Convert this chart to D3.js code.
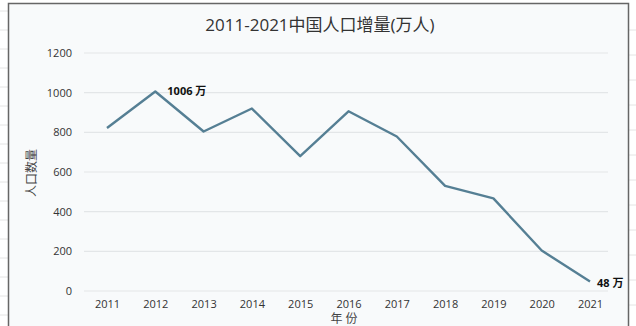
<!DOCTYPE html>
<html><head><meta charset="utf-8">
<script src="https://cdn.jsdelivr.net/npm/d3@7"></script>
<style>body{margin:0;background:#fff}svg{display:block}</style>
</head><body>
<svg id="c" width="636" height="326"></svg>
<script>
const years = ["2011","2012","2013","2014","2015","2016","2017","2018","2019","2020","2021"];
const increase = [822,1006,804,920,680,906,779,530,467,204,48];
const yTicks = [0,200,400,600,800,1000,1200];
const title = "2011-2021中国人口增量(万人)";
const yLabel = "人口数量";
const xLabel = "年 份";
const annotations = [{i:1, text:"1006 万"},{i:10, text:"48 万"}];

const svg = d3.select("#c");
const font = "'Open Sans','Noto Sans CJK SC',sans-serif";

// spreadsheet-like background lines outside the frame
svg.append("g").selectAll("line").data(d3.range(11, 326, 19)).join("line")
  .attr("x1",0).attr("x2",8).attr("y1",d=>d).attr("y2",d=>d)
  .attr("stroke","#e4e4e4");
svg.append("g").selectAll("line").data(d3.range(30, 326, 25)).join("line")
  .attr("x1",629).attr("x2",636).attr("y1",d=>d).attr("y2",d=>d)
  .attr("stroke","#e4e4e4");

// frame
svg.append("rect").attr("x",8.5).attr("y",3.5).attr("width",620).attr("height",330)
  .attr("fill","#f8fafb").attr("stroke","#666").attr("stroke-width",1.5);

const x = d3.scalePoint().domain(years).range([107,590]);
const y = d3.scaleLinear().domain([0,1200]).range([291,53]);

// gridlines
svg.append("g").selectAll("line").data(yTicks).join("line")
  .attr("x1",84).attr("x2",608)
  .attr("y1",d=>y(d)).attr("y2",d=>y(d))
  .attr("stroke","#e3e6e8").attr("stroke-width",1.2);

// y axis
const ya = svg.append("g").attr("transform","translate(72,0)")
  .call(d3.axisLeft(y).tickValues(yTicks).tickFormat(d3.format("d")).tickSize(0).tickPadding(0));
ya.select(".domain").remove();
ya.selectAll("text").attr("font-family",font).attr("font-size",11).attr("fill","#333");

// x axis
const xa = svg.append("g").attr("transform","translate(0,300)")
  .call(d3.axisBottom(x).tickSize(0).tickPadding(0));
xa.select(".domain").remove();
xa.selectAll("text").attr("font-family",font).attr("font-size",11).attr("fill","#333");

// line
const line = d3.line().x((d,i)=>x(years[i])).y(d=>y(d));
svg.append("path").datum(increase).attr("d",line)
  .attr("fill","none").attr("stroke","#557f94").attr("stroke-width",2.4)
  .attr("stroke-linejoin","round");

// annotations
svg.append("g").selectAll("text").data(annotations).join("text")
  .attr("x",d=>x(years[d.i])+ (d.i===10?7:12))
  .attr("y",d=>y(increase[d.i])+ (d.i===10?6:4))
  .attr("font-family",font).attr("font-size",11).attr("font-weight","bold")
  .attr("fill","#111").text(d=>d.text);

// title
svg.append("text").attr("x",320).attr("y",31).attr("text-anchor","middle")
  .attr("font-family",font).attr("font-size",17).attr("fill","#333").text(title);

// y label
svg.append("text").attr("transform","translate(36,173) rotate(-90)")
  .attr("text-anchor","middle").attr("font-family",font).attr("font-size",12)
  .attr("fill","#444").text(yLabel);

// x label
svg.append("text").attr("x",344).attr("y",323).attr("text-anchor","middle")
  .attr("font-family",font).attr("font-size",12).attr("fill","#444").text(xLabel);
</script>
</body></html>
